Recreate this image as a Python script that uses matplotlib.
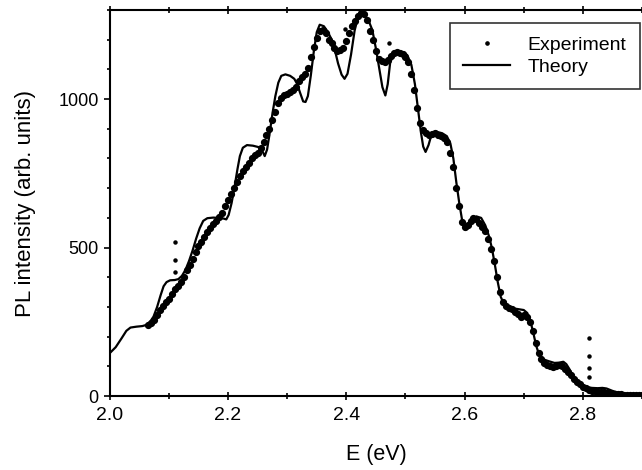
import matplotlib
matplotlib.use("Agg")
import matplotlib.pyplot as plt
from matplotlib.ticker import MultipleLocator

plt.rcParams["font.family"] = ["Liberation Sans", "DejaVu Sans"]

exp_e = [2.065, 2.070, 2.075, 2.080, 2.085, 2.090, 2.095, 2.100, 2.105, 2.110,
         2.115, 2.120, 2.125, 2.130, 2.135, 2.140, 2.145, 2.150, 2.155, 2.160,
         2.165, 2.170, 2.175, 2.180, 2.185, 2.190, 2.195, 2.200, 2.205, 2.210,
         2.215, 2.220, 2.225, 2.230, 2.235, 2.240, 2.245, 2.250, 2.255, 2.260,
         2.265, 2.270, 2.275, 2.280, 2.285, 2.290, 2.295, 2.300, 2.305, 2.310,
         2.315, 2.320, 2.325, 2.330, 2.335, 2.340, 2.345, 2.350, 2.355, 2.360,
         2.365, 2.370, 2.375, 2.380, 2.385, 2.390, 2.395, 2.400, 2.405, 2.410,
         2.415, 2.420, 2.425, 2.430, 2.435, 2.440, 2.445, 2.450, 2.455, 2.460,
         2.465, 2.470, 2.475, 2.480, 2.485, 2.490, 2.495, 2.500, 2.505, 2.510,
         2.515, 2.520, 2.525, 2.530, 2.535, 2.540, 2.545, 2.550, 2.555, 2.560,
         2.565, 2.570, 2.575, 2.580, 2.585, 2.590, 2.595, 2.600, 2.605, 2.610,
         2.615, 2.620, 2.625, 2.630, 2.635, 2.640, 2.645, 2.650, 2.655, 2.660,
         2.665, 2.670, 2.675, 2.680, 2.685, 2.690, 2.695, 2.700, 2.705, 2.710,
         2.715, 2.720, 2.725, 2.730, 2.735, 2.740, 2.745, 2.750, 2.755, 2.760,
         2.765, 2.770, 2.775, 2.780, 2.785, 2.790, 2.795, 2.800, 2.805, 2.810,
         2.815, 2.820, 2.825, 2.830, 2.835, 2.840, 2.845, 2.850, 2.855, 2.860,
         2.865, 2.870, 2.875, 2.880, 2.885, 2.890, 2.895, 2.900]
exp_i = [240, 248, 258, 272, 290, 305, 318, 328, 345, 360,
         372, 385, 402, 425, 440, 462, 485, 505, 520, 535,
         552, 565, 578, 590, 602, 618, 640, 660, 680, 700,
         722, 742, 758, 772, 785, 800, 810, 818, 835, 855,
         878, 900, 930, 958, 985, 1005, 1012, 1018, 1022, 1030,
         1040, 1060, 1075, 1085, 1105, 1140, 1175, 1205, 1228, 1232,
         1222, 1200, 1188, 1172, 1160, 1165, 1172, 1195, 1222, 1245,
         1262, 1278, 1290, 1285, 1265, 1230, 1200, 1160, 1135, 1128,
         1125, 1132, 1145, 1155, 1158, 1155, 1150, 1142, 1125, 1085,
         1030, 970, 920, 895, 885, 880, 882, 885, 880, 875,
         868, 855, 820, 770, 700, 640, 585, 570, 575, 590,
         598, 595, 582, 570, 555, 530, 495, 455, 400, 350,
         318, 302, 298, 292, 285, 275, 268, 272, 268, 250,
         220, 178, 145, 125, 112, 105, 100, 98, 102, 105,
         100, 92, 82, 70, 58, 48, 40, 32, 28, 22,
         18, 16, 15, 15, 14, 12, 10, 9, 8, 7,
         6, 5, 5, 4, 4, 3, 3, 3]

# stray experimental points
spike_e = [2.110, 2.110, 2.110, 2.473, 2.398, 2.810, 2.810, 2.810, 2.810]
spike_i = [520, 458, 418, 1189, 1235, 195, 135, 94, 64]

# theoretical curve
th_e = [2.000, 2.010, 2.020, 2.028, 2.035, 2.045, 2.055, 2.062, 2.068, 2.074,
        2.080, 2.086, 2.091, 2.096, 2.102, 2.110, 2.116, 2.122, 2.128, 2.134,
        2.140, 2.146, 2.152, 2.158, 2.165, 2.175, 2.185, 2.192, 2.197, 2.201,
        2.206, 2.211, 2.216, 2.220, 2.225, 2.232, 2.242, 2.252, 2.258, 2.262,
        2.266, 2.270, 2.275, 2.280, 2.285, 2.290, 2.297, 2.305, 2.312, 2.317,
        2.322, 2.327, 2.331, 2.335, 2.340, 2.345, 2.350, 2.355, 2.362, 2.368,
        2.374, 2.380, 2.386, 2.392, 2.397, 2.402, 2.408, 2.414, 2.420, 2.425,
        2.432, 2.438, 2.444, 2.450, 2.456, 2.461, 2.466, 2.470, 2.474, 2.479,
        2.486, 2.495, 2.503, 2.510, 2.516, 2.521, 2.526, 2.530, 2.534, 2.539,
        2.544, 2.552, 2.562, 2.570, 2.576, 2.581, 2.586, 2.591, 2.596, 2.601,
        2.606, 2.612, 2.620, 2.628, 2.635, 2.641, 2.646, 2.651, 2.656, 2.661,
        2.667, 2.675, 2.690, 2.700, 2.706, 2.711, 2.716, 2.721, 2.726, 2.732,
        2.742, 2.752, 2.760, 2.767, 2.772, 2.777, 2.783, 2.790, 2.797, 2.805,
        2.815, 2.825, 2.833, 2.840, 2.850, 2.860, 2.870, 2.880, 2.890, 2.900]
th_i = [145, 165, 195, 220, 231, 234, 236, 240, 250, 268,
        300, 340, 370, 384, 390, 391, 394, 405, 425, 455,
        490, 530, 565, 590, 599, 601, 600, 598, 595, 610,
        650, 705, 765, 808, 836, 845, 843, 838, 825, 808,
        830, 880, 950, 1010, 1055, 1078, 1083, 1078, 1068, 1050,
        1020, 992, 990, 1010, 1080, 1160, 1225, 1250, 1245, 1228,
        1205, 1170, 1120, 1082, 1068, 1085, 1150, 1230, 1278, 1288,
        1280, 1262, 1232, 1170, 1100, 1040, 1012, 1050, 1120, 1150,
        1160, 1158, 1148, 1115, 1050, 970, 890, 840, 822, 845,
        880, 890, 885, 875, 850, 800, 720, 650, 590, 562,
        565, 590, 605, 600, 575, 540, 500, 445, 385, 335,
        308, 298, 293, 290, 280, 255, 215, 170, 140, 125,
        118, 112, 113, 116, 108, 92, 70, 52, 40, 32,
        28, 27, 28, 26, 18, 12, 8, 6, 5, 4]

fig = plt.figure(figsize=(6.42, 4.70), dpi=100)
ax = fig.add_axes([0.171, 0.157, 0.829, 0.822])

ax.plot(th_e, th_i, color="black", lw=1.6, label="Theory", zorder=2)
ax.plot(exp_e, exp_i, ls="none", marker="o", ms=4.2, color="black",
        label="Experiment", zorder=3)
ax.plot(spike_e, spike_i, ls="none", marker="o", ms=2.2, color="black", zorder=3)

ax.set_xlim(2.0, 2.9)
ax.set_ylim(0, 1300)
ax.xaxis.set_major_locator(MultipleLocator(0.2))
ax.xaxis.set_minor_locator(MultipleLocator(0.1))
ax.yaxis.set_major_locator(MultipleLocator(500))
ax.yaxis.set_minor_locator(MultipleLocator(100))
ax.xaxis.set_major_formatter(plt.FormatStrFormatter("%.1f"))

ax.tick_params(axis="x", which="both", direction="inout", top=True,
               labelsize=14, pad=5, width=1.2)
ax.tick_params(axis="x", which="major", length=6)
ax.tick_params(axis="x", which="minor", length=4)
ax.tick_params(axis="y", which="both", direction="out", labelsize=13, pad=4, width=1.2)
ax.tick_params(axis="y", which="major", length=4)
ax.tick_params(axis="y", which="minor", length=2.5)

ax.spines["right"].set_visible(False)
for s in ["left", "bottom", "top"]:
    ax.spines[s].set_linewidth(1.5)

ax.set_xlabel("E (eV)", fontsize=15.5, labelpad=14)
ax.set_ylabel("PL intensity (arb. units)", fontsize=16, labelpad=16)

handles, labels = ax.get_legend_handles_labels()
leg = ax.legend(handles[::-1], labels[::-1], loc="upper right",
                bbox_to_anchor=(0.996, 0.966), borderaxespad=0, fontsize=14,
                frameon=True, fancybox=False, edgecolor="black",
                handlelength=2.4, handletextpad=0.9, borderpad=0.7,
                labelspacing=0.2, markerscale=0.55)
leg.get_frame().set_linewidth(1.2)

fig.savefig("out.png", dpi=100)
